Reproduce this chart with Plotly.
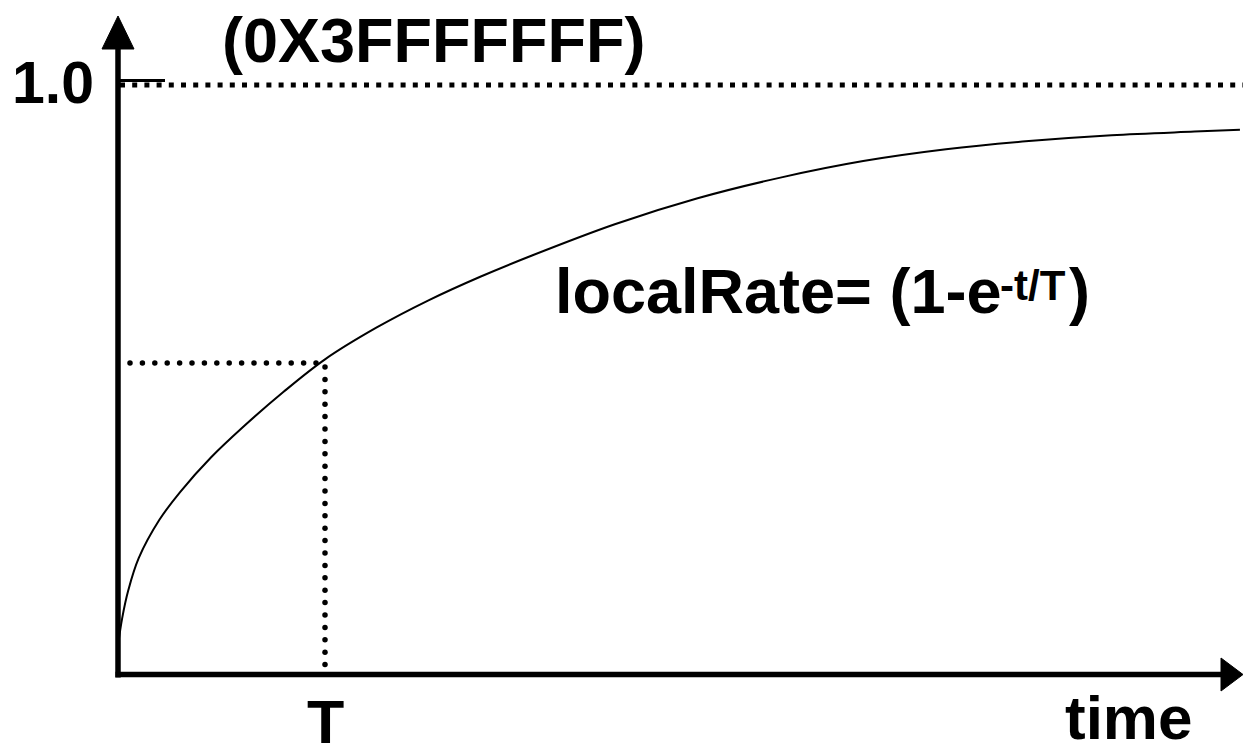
import numpy as np
import plotly.graph_objects as go

# ---- data (time in units of T, rate in units of 0x3FFFFFFF) ----
curve_t = [0.00, 0.02, 0.05, 0.10, 0.20, 0.30, 0.45, 0.60, 0.80, 1.00, 1.25, 1.50,
           1.75, 2.00, 2.40, 2.80, 3.20, 3.60, 4.00, 4.40, 4.80, 5.20, 5.42]
curve_rate = [0.050, 0.096, 0.144, 0.198, 0.263, 0.310, 0.369, 0.419, 0.480, 0.535, 0.589, 0.635,
              0.675, 0.711, 0.764, 0.808, 0.843, 0.871, 0.891, 0.905, 0.915, 0.921, 0.924]
T_value = 1.0
rate_at_T = 0.529
max_rate = 1.0
max_label = "1.0"
max_hex = "(0X3FFFFFFF)"
x_label = "time"
T_label = "T"
formula_main = "localRate= (1-e"
formula_exp = "-t/T"
formula_close = ")"

# ---- layout geometry ----
W, H = 1243, 749
L, R, TOP, B = 118, 0, 0, 74
PW, PH = W - L - R, H - TOP - B
PX_PER_T = 207.0
PX_PER_RATE = 590.0
x_range = [0, PW / PX_PER_T]
y_range = [0, PH / PX_PER_RATE]


def px(xp):
    return (xp - L) / PW


def py(yp):
    return (H - B - yp) / PH


FONT = "Liberation Sans, Arial, sans-serif"

fig = go.Figure()

# main curve
fig.add_trace(go.Scatter(x=curve_t, y=curve_rate, mode="lines",
                         line=dict(color="black", width=2, shape="spline", smoothing=1.0),
                         hoverinfo="skip", showlegend=False))

# dotted guides at T (round dots)
step_x = 12.4 / PX_PER_T
hx = np.arange(0.058, T_value - 0.02, step_x)
fig.add_trace(go.Scatter(x=hx, y=[rate_at_T] * len(hx), mode="markers",
                         marker=dict(color="black", size=5.5, symbol="circle"),
                         hoverinfo="skip", showlegend=False))
step_y = 12.4 / PX_PER_RATE
vy = np.arange(rate_at_T - 0.007, 0.005, -step_y)
fig.add_trace(go.Scatter(x=[T_value] * len(vy), y=vy, mode="markers",
                         marker=dict(color="black", size=5.5, symbol="circle"),
                         hoverinfo="skip", showlegend=False))

shapes = []
# dotted max line (square dots)
shapes.append(dict(type="line", xref="paper", yref="y", x0=px(120), x1=px(1243),
                   y0=max_rate, y1=max_rate,
                   line=dict(color="black", width=5, dash="5px,7.2px")))
# short tick at 1.0
shapes.append(dict(type="line", xref="paper", yref="paper", x0=px(118), x1=px(165),
                   y0=py(80.5), y1=py(80.5), line=dict(color="black", width=3)))
# y axis
shapes.append(dict(type="line", xref="paper", yref="paper", x0=px(118), x1=px(118),
                   y0=py(677.5), y1=py(40), line=dict(color="black", width=5.5)))
# x axis
shapes.append(dict(type="line", xref="paper", yref="paper", x0=px(115.5), x1=px(1230),
                   y0=py(674.5), y1=py(674.5), line=dict(color="black", width=5.5)))
# arrow heads
shapes.append(dict(type="path", xref="paper", yref="paper",
                   path=f"M {px(118)} {py(16)} L {px(102)} {py(49)} L {px(134)} {py(49)} Z",
                   fillcolor="black", line=dict(color="black", width=1)))
shapes.append(dict(type="path", xref="paper", yref="paper",
                   path=f"M {px(1243)} {py(674.5)} L {px(1221)} {py(658)} L {px(1221)} {py(691)} Z",
                   fillcolor="black", line=dict(color="black", width=1)))

ann = []


def text(s, xp, yp, size=60, xanchor="center"):
    ann.append(dict(text=s, xref="paper", yref="paper", x=px(xp), y=py(yp), showarrow=False,
                    xanchor=xanchor, yanchor="middle",
                    font=dict(family=FONT, size=size, color="black", weight="bold")))


text(max_hex, 433, 40, size=63)
text(max_label, 53, 83, size=59)
text(T_label, 325, 722, size=61)
text(x_label, 1128, 718, size=62)
text(formula_main, 553, 291, size=63, xanchor="left")
text(formula_exp, 1033, 285, size=42, xanchor="center")
text(formula_close, 1067, 291, size=63, xanchor="left")

fig.update_layout(
    width=W, height=H,
    margin=dict(l=L, r=R, t=TOP, b=B, pad=0),
    paper_bgcolor="white", plot_bgcolor="white",
    xaxis=dict(range=x_range, visible=False, fixedrange=True),
    yaxis=dict(range=y_range, visible=False, fixedrange=True),
    shapes=shapes, annotations=ann, showlegend=False,
)

fig.write_html("out.html", config={"displayModeBar": False},
               post_script="document.body.style.margin='0px';document.body.style.overflow='hidden';")
